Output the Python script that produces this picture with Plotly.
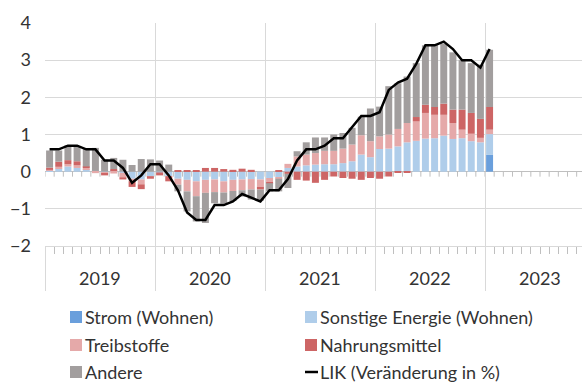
import plotly.graph_objects as go

# Monthly contributions to Swiss CPI inflation (percentage points), Jan 2019 - Jan 2023
years = ["2019", "2020", "2021", "2022", "2023"]

lik = [0.6, 0.6, 0.7, 0.7, 0.6, 0.6, 0.3, 0.3, 0.1, -0.3, -0.1, 0.2,
       0.2, -0.1, -0.5, -1.1, -1.3, -1.3, -0.9, -0.9, -0.8, -0.6, -0.7, -0.8,
       -0.5, -0.5, -0.2, 0.3, 0.6, 0.6, 0.7, 0.9, 0.9, 1.2, 1.5, 1.5,
       1.6, 2.2, 2.4, 2.5, 2.9, 3.4, 3.4, 3.5, 3.3, 3.0, 3.0, 2.8,
       3.3]

strom = [0.0] * 48 + [0.45]

sonstige = [0.03, 0.08, 0.14, 0.10, 0.07, 0.02, -0.02, 0.03, -0.03, -0.19, -0.21, -0.12,
            -0.02, -0.12, -0.19, -0.22, -0.26, -0.22, -0.21, -0.26, -0.22, -0.21, -0.20, -0.21,
            -0.17, -0.15, 0.10, 0.14, 0.17, 0.19, 0.20, 0.20, 0.23, 0.28, 0.46, 0.39,
            0.61, 0.62, 0.68, 0.79, 0.83, 0.89, 0.90, 0.97, 0.88, 0.90, 0.82, 0.79,
            0.56]

treibstoffe = [0.02, 0.05, 0.06, 0.07, 0.04, -0.04, -0.04, -0.05, -0.12, -0.07, -0.13, 0.0,
               0.0, 0.0, -0.16, -0.31, -0.40, -0.35, -0.34, -0.30, -0.30, -0.29, -0.28, -0.22,
               -0.12, -0.04, 0.11, 0.27, 0.29, 0.31, 0.36, 0.36, 0.39, 0.45, 0.52, 0.43,
               0.34, 0.38, 0.47, 0.52, 0.52, 0.69, 0.63, 0.56, 0.43, 0.23, 0.20, 0.12,
               0.12]

nahrung = [0.06, 0.14, 0.11, 0.11, 0.03, 0.0, -0.04, 0.04, -0.06, -0.15, -0.13, -0.07,
           -0.08, -0.14, 0.03, 0.03, 0.03, 0.10, 0.10, 0.07, 0.05, 0.08, 0.05, -0.05,
           -0.02, 0.03, -0.06, -0.22, -0.24, -0.30, -0.22, -0.13, -0.17, -0.19, -0.22, -0.17,
           -0.19, -0.13, -0.02, -0.03, 0.12, 0.22, 0.21, 0.30, 0.36, 0.54, 0.56, 0.51,
           0.61]

andere = [0.46, 0.30, 0.40, 0.40, 0.48, 0.62, 0.32, 0.30, 0.32, 0.18, 0.34, 0.33,
          0.30, 0.19, -0.18, -0.54, -0.68, -0.81, -0.30, -0.30, -0.27, -0.17, -0.27, -0.30,
          -0.22, -0.34, -0.38, 0.14, 0.33, 0.42, 0.36, 0.44, 0.42, 0.45, 0.50, 0.88,
          0.80, 1.30, 1.23, 1.25, 1.45, 1.60, 1.68, 1.61, 1.54, 1.33, 1.34, 1.46,
          1.54]

series = [
    ("Strom (Wohnen)", strom, "#6A9FDC"),
    ("Sonstige Energie (Wohnen)", sonstige, "#AFCDEA"),
    ("Treibstoffe", treibstoffe, "#E5A9A9"),
    ("Nahrungsmittel", nahrung, "#CD6565"),
    ("Andere", andere, "#A29E9E"),
]
line_name = "LIK (Veränderung in %)"

FONT = "Lato"
TEXT = "#333333"
GRID = "#d9d9d9"
W, H = 582, 383
ML, MT, MB = 45, 23, 137
PW, PH = W - ML, H - MT - MB

x = list(range(len(lik)))
n_slots = 12 * len(years)

fig = go.Figure()
for name, vals, color in series:
    fig.add_trace(go.Bar(x=x, y=vals, name=name, marker_color=color,
                         marker_line_width=0, width=0.76, showlegend=False))
fig.add_trace(go.Scatter(x=x, y=lik, name=line_name, mode="lines",
                         line=dict(color="black", width=2.5), showlegend=False))

# small tick marks hanging below the zero line at every month boundary
shapes = []
for k in range(n_slots + 1):
    shapes.append(dict(type="line", xref="x", yref="y", x0=k - 0.5, x1=k - 0.5,
                       ysizemode="pixel", yanchor=0, y0=0, y1=-5,
                       line=dict(color="#bfbfbf", width=1), layer="below"))

# legend: two columns, three rows
annotations = []
legend_cols = [70, 305]
legend_rows = [317, 345, 372]
entries = [(n, c, "bar") for n, _, c in series] + [(line_name, "black", "line")]
for i, (name, color, kind) in enumerate(entries):
    px = legend_cols[i % 2]
    py = legend_rows[i // 2]
    xa = (px - ML) / PW
    ya = (H - MB - py) / PH
    if kind == "bar":
        shapes.append(dict(type="rect", xref="paper", yref="paper",
                           xsizemode="pixel", xanchor=xa, x0=0, x1=12,
                           ysizemode="pixel", yanchor=ya, y0=-6, y1=6,
                           fillcolor=color, line=dict(width=0)))
    else:
        shapes.append(dict(type="line", xref="paper", yref="paper",
                           xsizemode="pixel", xanchor=xa, x0=0, x1=13,
                           ysizemode="pixel", yanchor=ya, y0=0, y1=0,
                           line=dict(color=color, width=2.5)))
    annotations.append(dict(text=name, xref="paper", yref="paper",
                            x=(px + 14 - ML) / PW, y=ya, xanchor="left", yanchor="middle",
                            showarrow=False, borderpad=0,
                            font=dict(family=FONT, size=18, color=TEXT)))

# year labels centred under each block of twelve months
for j, yr in enumerate(years):
    annotations.append(dict(text=yr, xref="x", yref="paper", x=12 * j + 5.5,
                            y=-(278 - (H - MB)) / PH, xanchor="center", yanchor="middle",
                            showarrow=False, font=dict(family=FONT, size=18, color=TEXT)))

fig.update_layout(
    width=W, height=H,
    margin=dict(l=ML, r=0, t=MT, b=MB),
    paper_bgcolor="white", plot_bgcolor="white",
    barmode="relative",
    showlegend=False,
    shapes=shapes,
    annotations=annotations,
    font=dict(family=FONT, size=18, color=TEXT),
)
fig.update_xaxes(
    range=[-0.5, -0.5 + PW / (110 / 12)],
    tickmode="linear", tick0=-0.5, dtick=12,
    ticks="outside", ticklen=44, tickcolor=GRID, tickwidth=1,
    showticklabels=False,
    showgrid=True, gridcolor=GRID, gridwidth=1,
    minor=dict(tickmode="linear", tick0=-0.5, dtick=1, ticks="outside",
               ticklen=7, tickcolor="#bfbfbf", showgrid=False),
    showline=True, linecolor=GRID, zeroline=False,
)
fig.update_yaxes(
    range=[-2, 4], tickmode="linear", tick0=-2, dtick=1,
    showgrid=True, gridcolor=GRID, gridwidth=1,
    zeroline=True, zerolinecolor="#bfbfbf", zerolinewidth=1,
    ticks="", ticklabelstandoff=13,
    tickfont=dict(family=FONT, size=18, color=TEXT),
)

fig.write_html("out.html")
